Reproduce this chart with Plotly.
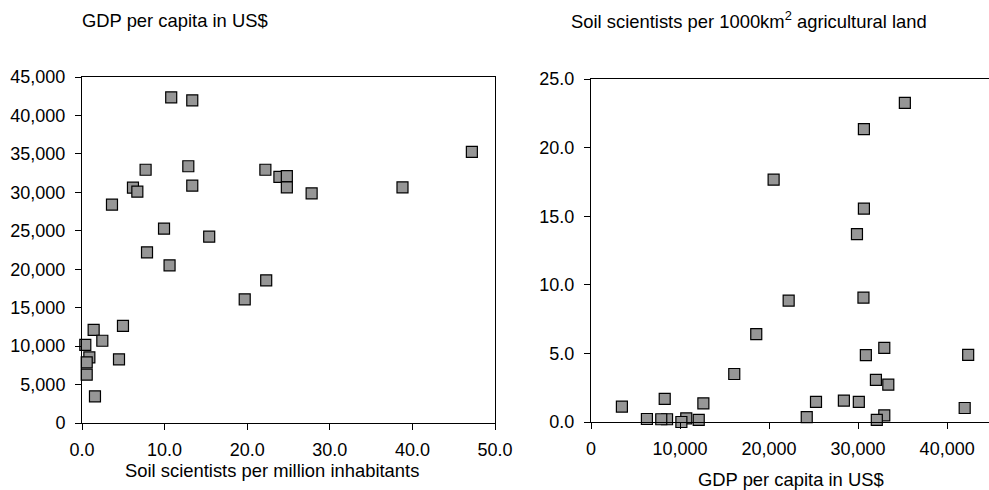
import plotly.graph_objects as go

# Shared data: each country has GDP per capita, soil scientists per million inhabitants,
# and soil scientists per 1000 km2 agricultural land
gdp_per_capita = [42360, 41970, 32940, 33390, 30600, 30080, 30870, 28400, 25270, 24230,
                  22200, 20510, 16090, 18560, 35250, 32940, 32000, 32100, 30650, 29870,
                  30650, 12620, 12100, 10700, 10150, 8540, 7890, 8280, 6280, 3470]
soil_per_million = [10.8, 13.35, 7.7, 12.87, 6.17, 6.7, 13.35, 3.63, 9.93, 15.4,
                    7.87, 10.6, 19.7, 22.3, 47.2, 22.2, 23.9, 24.8, 24.8, 27.8,
                    38.8, 4.96, 1.41, 2.46, 0.4, 0.89, 0.57, 4.48, 0.57, 1.57]
soil_per_1000km2 = [4.89, 1.02, 5.4, 2.72, 9.07, 1.46, 4.87, 1.56, 1.46, 0.36,
                    8.85, 17.66, 3.5, 6.4, 23.26, 0.49, 3.07, 0.15, 21.34, 13.7,
                    15.55, 1.36, 0.15, 0.27, 0.0, 0.2, 0.2, 1.68, 0.22, 1.12]

left_title = "GDP per capita in US$"
left_xtitle = "Soil scientists per million inhabitants"
right_title = "Soil scientists per 1000km<sup>2</sup> agricultural land"
right_xtitle = "GDP per capita in US$"

FONT = "Liberation Sans, Arial, sans-serif"
marker = dict(symbol="square", size=11, color="#969696",
              line=dict(color="#000000", width=1.2))

fig = go.Figure()
fig.add_trace(go.Scatter(x=soil_per_million, y=gdp_per_capita, mode="markers",
                         marker=marker, xaxis="x", yaxis="y", showlegend=False,
                         cliponaxis=False))
fig.add_trace(go.Scatter(x=gdp_per_capita, y=soil_per_1000km2, mode="markers",
                         marker=marker, xaxis="x2", yaxis="y2", showlegend=False,
                         cliponaxis=False))

axis_common = dict(showgrid=False, zeroline=False, showline=True, linecolor="#000000",
                   linewidth=1, ticks="outside", ticklen=6, tickcolor="#000000",
                   tickwidth=1, automargin=False,
                   tickfont=dict(family=FONT, size=18, color="#000000"))

fig.update_layout(
    width=989, height=490,
    margin=dict(l=0, r=0, t=0, b=0, autoexpand=False),
    paper_bgcolor="white", plot_bgcolor="white",
    font=dict(family=FONT, size=18, color="#000000"),
    xaxis=dict(domain=[82/989, 495/989], range=[0, 50], tickvals=[0, 10, 20, 30, 40, 50],
               tickformat=".1f", mirror=True, anchor="y", ticklabelstandoff=4,
               **axis_common),
    yaxis=dict(domain=[1-423/490, 1-77/490], range=[0, 45000],
               tickvals=[0, 5000, 10000, 15000, 20000, 25000, 30000, 35000, 40000, 45000],
               tickformat=",d", mirror=True, anchor="x", ticklabelstandoff=6,
               **axis_common),
    xaxis2=dict(domain=[591/989, 1.0], range=[0, 44700],
                tickvals=[0, 10000, 20000, 30000, 40000], tickformat=",d",
                mirror=True, anchor="y2", ticklabelstandoff=4, **axis_common),
    yaxis2=dict(domain=[1-422/490, 1-79/490], range=[0, 25],
                tickvals=[0, 5, 10, 15, 20, 25], tickformat=".1f",
                anchor="x2", ticklabelstandoff=6, **axis_common),
    annotations=[
        dict(text=left_title, x=175/989, y=1-20/490, xref="paper", yref="paper",
             showarrow=False, xanchor="center", yanchor="middle",
             font=dict(family=FONT, size=18.4)),
        dict(text=right_title, x=749/989, y=1-20/490, xref="paper", yref="paper",
             showarrow=False, xanchor="center", yanchor="middle",
             font=dict(family=FONT, size=18.4)),
        dict(text=left_xtitle, x=272/989, y=1-470/490, xref="paper", yref="paper",
             showarrow=False, xanchor="center", yanchor="middle",
             font=dict(family=FONT, size=18.4)),
        dict(text=right_xtitle, x=791/989, y=1-479/490, xref="paper", yref="paper",
             showarrow=False, xanchor="center", yanchor="middle",
             font=dict(family=FONT, size=18.4)),
    ],
)

fig.write_html("out.html", config={"displayModeBar": False},
               post_script="document.body.style.margin='0';")
